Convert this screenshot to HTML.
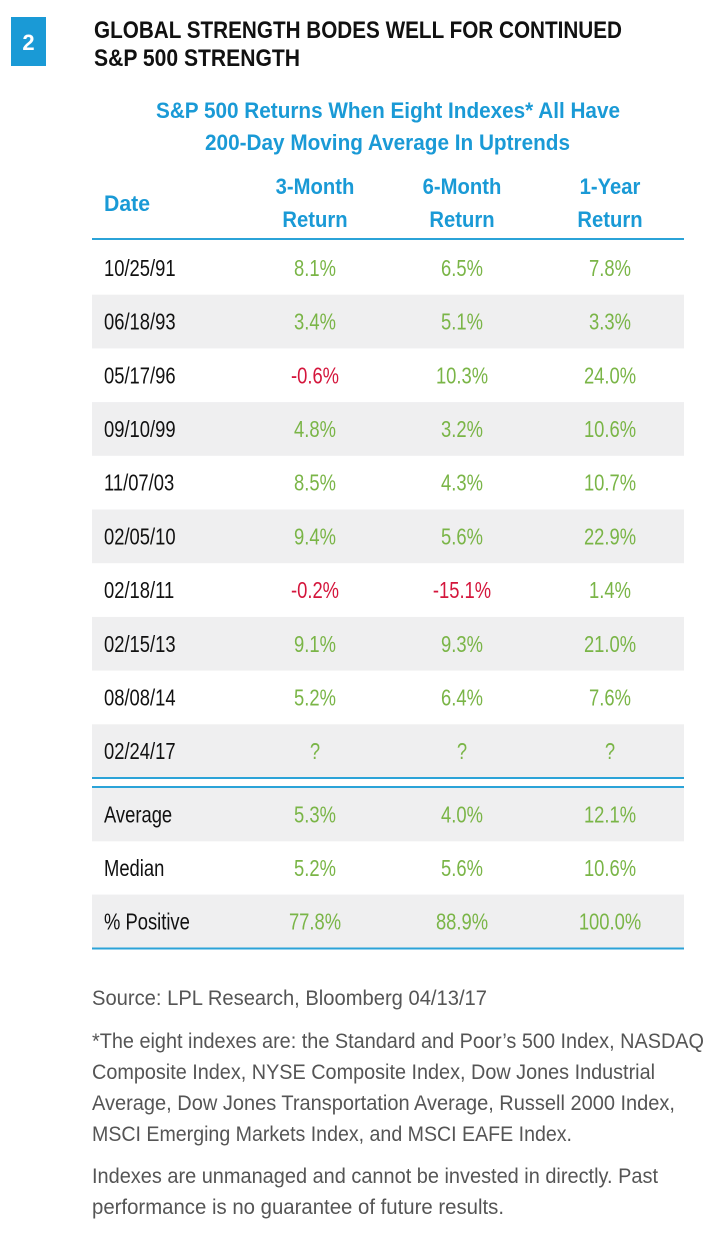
<!DOCTYPE html>
<html><head><meta charset="utf-8"><style>
html,body{margin:0;padding:0;background:#fff;}
svg{display:block;}
text{font-family:"Liberation Sans",sans-serif;}
</style></head><body>
<svg id="s" width="728" height="1256" viewBox="0 0 728 1256" xmlns="http://www.w3.org/2000/svg">
<rect x="0" y="0" width="728" height="1256" fill="#fff"/>
<rect x="11" y="17" width="35" height="49" fill="#1a9ad6"/>
<text x="28.5" y="50" text-anchor="middle" font-size="22" font-weight="bold" fill="#fff">2</text>
<text x="94" y="38" font-size="24" font-weight="bold" fill="#111" textLength="528" lengthAdjust="spacingAndGlyphs">GLOBAL STRENGTH BODES WELL FOR CONTINUED</text>
<text x="94" y="66" font-size="24" font-weight="bold" fill="#111" textLength="206" lengthAdjust="spacingAndGlyphs">S&amp;P 500 STRENGTH</text>
<text x="156" y="118" font-size="22" font-weight="bold" fill="#1a9ad6" textLength="464" lengthAdjust="spacingAndGlyphs">S&amp;P 500 Returns When Eight Indexes* All Have</text>
<text x="205" y="150" font-size="22" font-weight="bold" fill="#1a9ad6" textLength="365" lengthAdjust="spacingAndGlyphs">200-Day Moving Average In Uptrends</text>
<text x="104" y="211" font-size="22" font-weight="bold" fill="#1a9ad6" textLength="46" lengthAdjust="spacingAndGlyphs">Date</text>
<g id="hdr"></g>
<g id="rows"></g>
<g id="foot"></g>
</svg>
<script>
const dates = ["10/25/91","06/18/93","05/17/96","09/10/99","11/07/03","02/05/10","02/18/11","02/15/13","08/08/14","02/24/17"];
const threeMonth = [8.1,3.4,-0.6,4.8,8.5,9.4,-0.2,9.1,5.2,null];
const sixMonth = [6.5,5.1,10.3,3.2,4.3,5.6,-15.1,9.3,6.4,null];
const oneYear = [7.8,3.3,24.0,10.6,10.7,22.9,1.4,21.0,7.6,null];
const summaryLabels = ["Average","Median","% Positive"];
const summary3m = [5.3,5.2,77.8];
const summary6m = [4.0,5.6,88.9];
const summary1y = [12.1,10.6,100.0];
const columnHeaders = [["3-Month","Return"],["6-Month","Return"],["1-Year","Return"]];

const NS="http://www.w3.org/2000/svg";
const colX=[315,462,610];
const GREEN="#7ab547", RED="#d4163c", BLUE="#1a9ad6", GRAY="#efeff0";
function mk(tag,attrs,parent){const e=document.createElementNS(NS,tag);for(const k in attrs)e.setAttribute(k,attrs[k]);parent.appendChild(e);return e;}
function txt(parent,x,y,str,size,fill,anchor,weight,sx){
  const t=mk('text',{x:0,y:0,'font-size':size,fill:fill,'text-anchor':anchor,'font-weight':weight||'normal',transform:`translate(${x},${y}) scale(${sx||0.86},1)`},parent);
  t.textContent=str;return t;}
const hdr=document.getElementById('hdr');
columnHeaders.forEach((h,i)=>{
  const a=txt(hdr,colX[i],194,h[0],22,BLUE,'middle','bold',0.92);
  
  
  const b=txt(hdr,colX[i],227,h[1],22,BLUE,'middle','bold',0.92);
  
  
});
const hl=mk('line',{x1:92,x2:684,y1:239,y2:239,stroke:"#2ba3d8",'stroke-width':2},hdr);



const rowsG=document.getElementById('rows');
const fmt=v=>v===null?'?':v.toFixed(1)+'%';
const rowH=53.7, rowsTop=241;
function addRow(y0,h,gray,label,vals,name){
  const g=mk('g',{},rowsG);
  
  
  if(gray) mk('rect',{x:92,y:y0,width:592,height:h,fill:GRAY},g);
  const cy=y0+h/2+8;
  const l=txt(g,104,cy,label,23,'#111','start','normal',0.8);
  
  
  vals.forEach((v,i)=>{
    const t=txt(g,colX[i],cy,fmt(v),23,(v!==null&&v<0)?RED:GREEN,'middle','normal',0.8);
    
    
  });
}
dates.forEach((d,i)=>addRow(rowsTop+rowH*i,rowH,i%2===1,d,[threeMonth[i],sixMonth[i],oneYear[i]],'row-'+d.replace(/\//g,'-')));
mk('line',{x1:92,x2:684,y1:778,y2:778,stroke:"#2ba3d8",'stroke-width':2},rowsG);
mk('line',{x1:92,x2:684,y1:787,y2:787,stroke:"#2ba3d8",'stroke-width':2},rowsG);
summaryLabels.forEach((s,i)=>addRow(788+53.3*i,53.3,i%2===0,s,[summary3m[i],summary6m[i],summary1y[i]],'summary-row-'+(i+1)));
mk('line',{x1:92,x2:684,y1:948.5,y2:948.5,stroke:"#2ba3d8",'stroke-width':2},rowsG);

const foot=document.getElementById('foot');
const footLines=[
 ["Source: LPL Research, Bloomberg   04/13/17",1005,395,'source-note'],
 ["*The eight indexes are: the Standard and Poor’s 500 Index, NASDAQ",1048,612,'footnote-line-1'],
 ["Composite Index, NYSE Composite Index, Dow Jones Industrial",1079,563,'footnote-line-2'],
 ["Average, Dow Jones Transportation Average, Russell 2000 Index,",1110,583,'footnote-line-3'],
 ["MSCI Emerging Markets Index, and MSCI EAFE Index.",1141,480,'footnote-line-4'],
 ["Indexes are unmanaged and cannot be invested in directly. Past",1183,566,'disclaimer-line-1'],
 ["performance is no guarantee of future results.",1214,412,'disclaimer-line-2']
];
footLines.forEach(f=>{
  const t=mk('text',{x:92,y:f[1],'font-size':21,fill:'#555',textLength:f[2],lengthAdjust:'spacingAndGlyphs'},foot);
  t.textContent=f[0];
  
  
});
</script>
</body></html>
